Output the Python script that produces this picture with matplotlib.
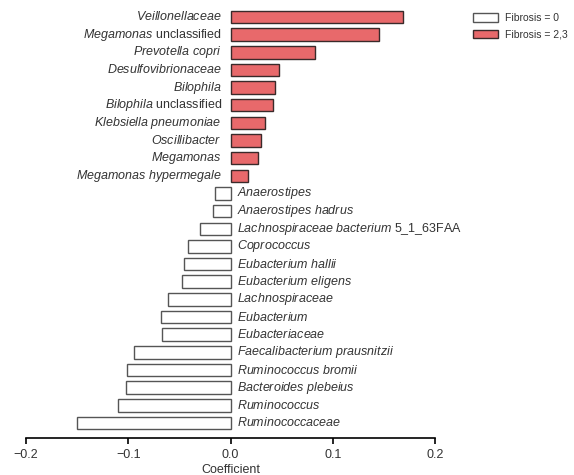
import matplotlib.pyplot as plt
import matplotlib as mpl
from matplotlib.patches import Patch

mpl.rcParams['font.family'] = 'Liberation Sans'
mpl.rcParams['mathtext.fontset'] = 'custom'
mpl.rcParams['mathtext.rm'] = 'Liberation Sans'
mpl.rcParams['mathtext.it'] = 'Liberation Sans:italic'

# taxa, top to bottom
taxa = [
    r"$\it{Veillonellaceae}$",
    r"$\it{Megamonas}$ unclassified",
    r"$\it{Prevotella\ copri}$",
    r"$\it{Desulfovibrionaceae}$",
    r"$\it{Bilophila}$",
    r"$\it{Bilophila}$ unclassified",
    r"$\it{Klebsiella\ pneumoniae}$",
    r"$\it{Oscillibacter}$",
    r"$\it{Megamonas}$",
    r"$\it{Megamonas\ hypermegale}$",
    r"$\it{Anaerostipes}$",
    r"$\it{Anaerostipes\ hadrus}$",
    r"$\it{Lachnospiraceae\ bacterium}$ 5_1_63FAA",
    r"$\it{Coprococcus}$",
    r"$\it{Eubacterium\ hallii}$",
    r"$\it{Eubacterium\ eligens}$",
    r"$\it{Lachnospiraceae}$",
    r"$\it{Eubacterium}$",
    r"$\it{Eubacteriaceae}$",
    r"$\it{Faecalibacterium\ prausnitzii}$",
    r"$\it{Ruminococcus\ bromii}$",
    r"$\it{Bacteroides\ plebeius}$",
    r"$\it{Ruminococcus}$",
    r"$\it{Ruminococcaceae}$",
]
coef = [0.169, 0.145, 0.083, 0.047, 0.044, 0.042, 0.034, 0.030, 0.027, 0.017,
        -0.015, -0.017, -0.030, -0.042, -0.045, -0.047, -0.061, -0.068, -0.067,
        -0.0945, -0.101, -0.102, -0.1105, -0.1505]

red = '#E8696B'
txt = '#333333'
fs = 9.0

fig = plt.figure(figsize=(5.74, 4.75), dpi=100)
ax = fig.add_axes([26 / 574, 37 / 475, 409 / 574, 438 / 475])

ypos = list(range(len(coef)))
for y, c, name in zip(ypos, coef, taxa):
    if c > 0:
        ax.barh(y, c, height=0.71, color=red, edgecolor='#3a2a2a', linewidth=1.0)
        ax.text(-0.0085, y, name, ha='right', va='center', fontsize=fs, color=txt)
    else:
        ax.barh(y, c, height=0.71, color='white', edgecolor='#555555', linewidth=1.0)
        ax.text(0.006, y, name, ha='left', va='center', fontsize=fs, color=txt)

ax.set_xlim(-0.2, 0.2)
ax.set_ylim(23.85, -0.96)
ax.set_xticks([-0.2, -0.1, 0.0, 0.1, 0.2])
ax.set_xticklabels(['\u22120.2', '\u22120.1', '0.0', '0.1', '0.2'])
ax.tick_params(axis='x', labelsize=fs, labelcolor=txt, length=4, width=1.2, pad=4)
ax.set_yticks([])
for s in ['left', 'right', 'top']:
    ax.spines[s].set_visible(False)
ax.spines['bottom'].set_linewidth(1.2)
ax.set_xlabel('Coefficient', fontsize=fs, color=txt, labelpad=2)

handles = [Patch(facecolor='white', edgecolor='#555555', label='Fibrosis = 0'),
           Patch(facecolor=red, edgecolor='#3a2a2a', label='Fibrosis = 2,3')]
fig.legend(handles=handles, loc='upper left', bbox_to_anchor=(464 / 574, 1 - 4 / 475),
           frameon=False, fontsize=7.5, handlelength=2.4, handleheight=0.9,
           labelspacing=0.6, handletextpad=0.6, labelcolor=txt)

plt.savefig('out.png', dpi=100)
